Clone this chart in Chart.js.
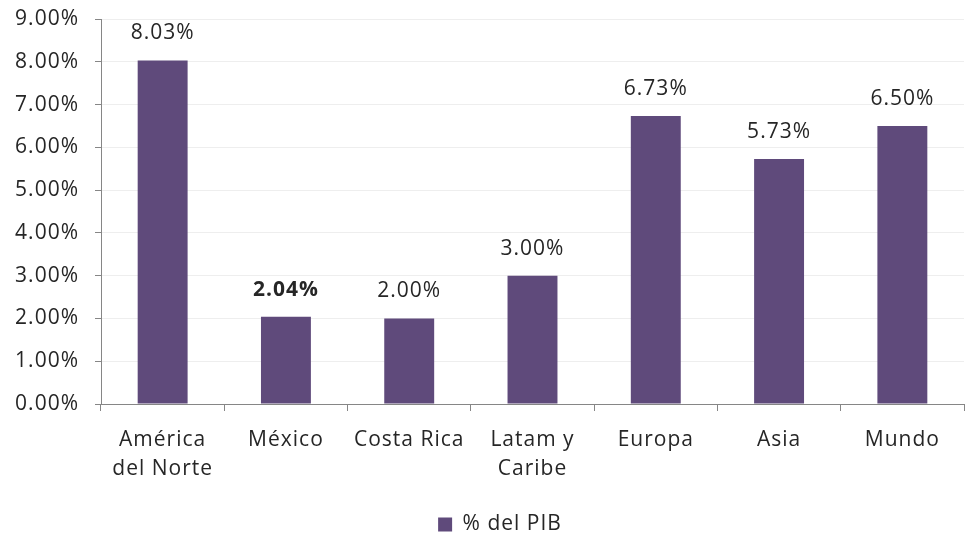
<!DOCTYPE html>
<html>
<head>
<meta charset="utf-8">
<script src="https://cdn.jsdelivr.net/npm/chart.js@4/dist/chart.umd.min.js"></script>
<style>
html,body{margin:0;padding:0;background:#fff;}
#wrap{width:967px;height:537px;}
</style>
</head>
<body>
<div id="wrap"><canvas id="c" width="967" height="537"></canvas></div>
<script>
const categories = [["América","del Norte"],"México","Costa Rica",["Latam y","Caribe"],"Europa","Asia","Mundo"];
const values = [8.03, 2.04, 2.00, 3.00, 6.73, 5.73, 6.50];
const valueLabels = ["8.03%","2.04%","2.00%","3.00%","6.73%","5.73%","6.50%"];
const boldLabels = [false, true, false, false, false, false, false];
const seriesName = "% del PIB";
const FONT = "'Open Sans', sans-serif";
const FS = 21;

const spacingPlugin = {
  id: 'spacing',
  beforeUpdate(chart) { chart.ctx.letterSpacing = '1px'; },
  beforeDraw(chart) { chart.ctx.letterSpacing = '1px'; },
  afterLayout(chart) {
    if (chart.legend) { chart.legend.left += 36; }
  }
};

const labelPlugin = {
  id: 'valLabels',
  afterDatasetsDraw(chart) {
    const ctx = chart.ctx;
    const meta = chart.getDatasetMeta(0);
    ctx.save();
    ctx.textAlign = 'center';
    ctx.textBaseline = 'middle';
    ctx.fillStyle = '#262626';
    meta.data.forEach((bar, i) => {
      ctx.font = (boldLabels[i] ? 'bold ' : '') + FS + 'px ' + FONT;
      ctx.fillText(valueLabels[i], bar.x, bar.y - 27);
    });
    ctx.restore();
  }
};

new Chart(document.getElementById('c'), {
  type: 'bar',
  data: {
    labels: categories,
    datasets: [{
      label: seriesName,
      data: values,
      backgroundColor: '#5F4A7B',
      borderWidth: 0,
      categoryPercentage: 1.0,
      barPercentage: 0.405
    }]
  },
  options: {
    responsive: false,
    animation: false,
    devicePixelRatio: 1,
    layout: { padding: { left: 0, right: 3, top: 19, bottom: -8 } },
    plugins: {
      legend: {
        position: 'bottom',
        labels: {
          boxWidth: 14, boxHeight: 14,
          color: '#262626',
          font: { family: FONT, size: FS },
          padding: 0
        }
      },
      tooltip: { enabled: false }
    },
    scales: {
      y: {
        min: 0, max: 9,
        ticks: {
          stepSize: 1,
          color: '#262626',
          font: { family: FONT, size: FS },
          padding: 16,
          callback: v => v.toFixed(2) + '%'
        },
        grid: { color: '#EEEEEE', tickColor: '#868686', tickLength: 6, drawTicks: true },
        border: { color: '#868686', width: 1 },
        afterFit(scale) { scale.width = 101; scale.paddingTop = 0; scale.paddingBottom = 0; }
      },
      x: {
        offset: true,
        ticks: {
          color: '#262626',
          font: { family: FONT, size: FS, lineHeight: 1.4 },
          padding: 14,
          maxRotation: 0, autoSkip: false
        },
        grid: { offset: true, drawOnChartArea: false, tickColor: '#868686', tickLength: 7 },
        border: { color: '#868686', width: 1 },
        afterFit(scale) { scale.height = 110; }
      }
    }
  },
  plugins: [spacingPlugin, labelPlugin]
});
</script>
</body>
</html>
